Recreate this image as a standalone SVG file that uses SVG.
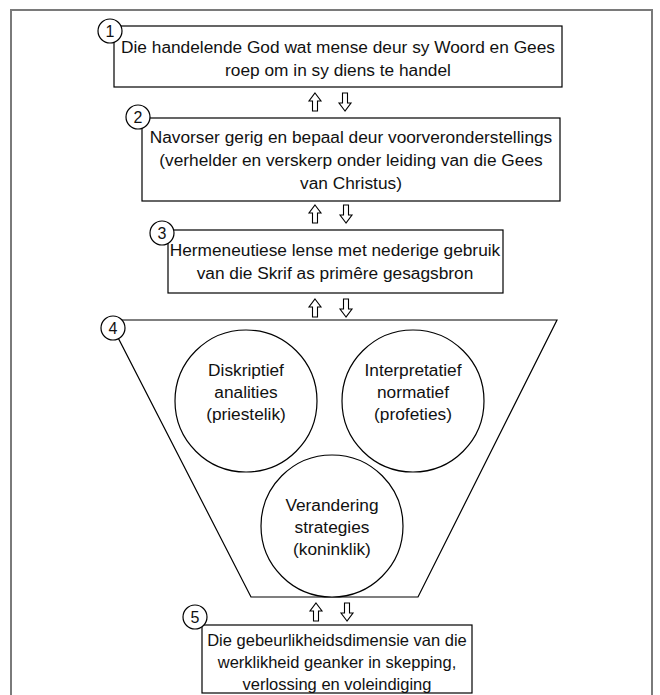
<svg xmlns="http://www.w3.org/2000/svg" width="660" height="695" viewBox="0 0 660 695">
<style>
.box{fill:#fff;stroke:#000;stroke-width:1.2}
.num{fill:#fff;stroke:#000;stroke-width:1.2}
.t{font-family:"Liberation Sans",Arial,sans-serif;font-size:17.3px;fill:#111;text-anchor:middle}
.s{font-size:16.5px}
.n{font-family:"Liberation Sans",Arial,sans-serif;font-size:16px;fill:#111;text-anchor:middle}
.arr{fill:#fff;stroke:#000;stroke-width:1.1;stroke-linejoin:miter}
</style>
<defs>
<path id="ar" d="M0,-9 L6,-1 L2.5,-1 L2.5,9 L-2.5,9 L-2.5,-1 L-6,-1 Z"/>
</defs>
<rect x="11" y="10" width="641" height="700" fill="#fff" stroke="#7a7a7a" stroke-width="2"/>

<g id="connectors">
<use href="#ar" class="arr" transform="translate(315,102)"/>
<use href="#ar" class="arr" transform="translate(345,102) rotate(180)"/>
<use href="#ar" class="arr" transform="translate(315,214)"/>
<use href="#ar" class="arr" transform="translate(346,214) rotate(180)"/>
<use href="#ar" class="arr" transform="translate(315,308)"/>
<use href="#ar" class="arr" transform="translate(346,308) rotate(180)"/>
<use href="#ar" class="arr" transform="translate(316,612)"/>
<use href="#ar" class="arr" transform="translate(347,612) rotate(180)"/>
<use href="#ar" class="arr" transform="translate(327,352) rotate(90) scale(0.8)"/>
<use href="#ar" class="arr" transform="translate(256,483) rotate(-52)"/>
<use href="#ar" class="arr" transform="translate(411,486) rotate(49)"/>
</g>

<g id="node1">
<rect class="box" x="114" y="26" width="448" height="61"/>
<circle class="num" cx="110" cy="31" r="12"/>
<text class="n" x="110" y="37">1</text>
<text class="t" x="338" y="53">Die handelende God wat mense deur sy Woord en Gees</text>
<text class="t" x="338" y="76">roep om in sy diens te handel</text>
</g>

<g id="node2">
<rect class="box" x="142" y="118" width="418" height="83"/>
<circle class="num" cx="138" cy="117" r="12"/>
<text class="n" x="138" y="123">2</text>
<text class="t" x="351" y="143">Navorser gerig en bepaal deur voorveronderstellings</text>
<text class="t" x="351" y="166">(verhelder en verskerp onder leiding van die Gees</text>
<text class="t" x="351" y="189">van Christus)</text>
</g>

<g id="node3">
<rect class="box" x="168" y="230" width="335" height="63"/>
<circle class="num" cx="162" cy="233" r="12"/>
<text class="n" x="162" y="239">3</text>
<text class="t" x="335" y="256">Hermeneutiese lense met nederige gebruik</text>
<text class="t" x="335" y="279">van die Skrif as primêre gesagsbron</text>
</g>

<g id="node4">
<polygon class="box" points="109,320 557,320 418,597 251,597"/>
<circle class="num" cx="113" cy="328" r="12"/>
<text class="n" x="113" y="334">4</text>
</g>

<g id="node4a">
<circle class="box" cx="246" cy="401" r="71"/>
<text class="t" x="246" y="376">Diskriptief</text>
<text class="t" x="246" y="398">analities</text>
<text class="t" x="246" y="420">(priestelik)</text>
</g>

<g id="node4b">
<circle class="box" cx="413" cy="401" r="71"/>
<text class="t" x="413" y="376">Interpretatief</text>
<text class="t" x="413" y="398">normatief</text>
<text class="t" x="413" y="420">(profeties)</text>
</g>

<g id="node4c">
<circle class="box" cx="332" cy="526" r="71"/>
<text class="t" x="332" y="511">Verandering</text>
<text class="t" x="332" y="533">strategies</text>
<text class="t" x="332" y="555">(koninklik)</text>
</g>

<g id="node5">
<rect class="box" x="202" y="625" width="270" height="68"/>
<circle class="num" cx="195" cy="617" r="12"/>
<text class="n" x="195" y="623">5</text>
<text class="t s" x="337" y="646">Die gebeurlikheidsdimensie van die</text>
<text class="t s" x="337" y="668">werklikheid geanker in skepping,</text>
<text class="t s" x="337" y="690">verlossing en voleindiging</text>
</g>
</svg>
